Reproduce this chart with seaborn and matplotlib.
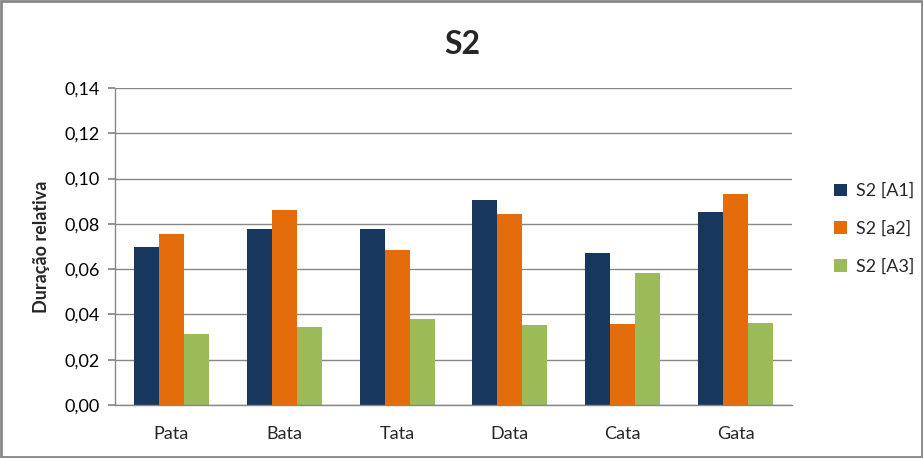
import matplotlib
matplotlib.use("Agg")
import matplotlib.pyplot as plt
import seaborn as sns
import pandas as pd
from matplotlib.ticker import FuncFormatter, MultipleLocator
from matplotlib.patches import Rectangle

categories = ["Pata", "Bata", "Tata", "Data", "Cata", "Gata"]
series_names = ["S2 [A1]", "S2 [a2]", "S2 [A3]"]
a1 = [0.0696, 0.0776, 0.0776, 0.0905, 0.0670, 0.0851]
a2 = [0.0754, 0.0860, 0.0684, 0.0844, 0.0359, 0.0931]
a3 = [0.0315, 0.0346, 0.0381, 0.0355, 0.0581, 0.0364]
colors = ["#17375E", "#E46C0A", "#9BBB59"]

rows = []
for name, vals in zip(series_names, [a1, a2, a3]):
    for c, v in zip(categories, vals):
        rows.append({"cat": c, "series": name, "val": v})
df = pd.DataFrame(rows)

sns.set_theme(style="white")
plt.rcParams['font.family'] = ['Lato', 'DejaVu Sans']

fig = plt.figure(figsize=(9.23, 4.58), dpi=100)
ax = fig.add_axes([115/923, 1-405/458, (792-115)/923, (405-88)/458])

sns.barplot(data=df, x="cat", y="val", hue="series", palette=colors,
            width=0.665, saturation=1, ax=ax, edgecolor="none", linewidth=0)

ax.set_ylim(0, 0.14)
ax.yaxis.set_major_locator(MultipleLocator(0.02))
ax.yaxis.set_major_formatter(FuncFormatter(lambda v, p: f"{v:.2f}".replace(".", ",")))
ax.grid(axis="y", color="#878787", linewidth=1)
ax.set_axisbelow(True)
for s in ["top", "right"]:
    ax.spines[s].set_visible(False)
for s in ["left", "bottom"]:
    ax.spines[s].set_color("#878787")
    ax.spines[s].set_linewidth(1)
ax.tick_params(axis="y", left=True, length=5, color="#878787", labelsize=13, colors="#000000", pad=6)
ax.tick_params(axis="x", bottom=False, labelsize=13, pad=9)
for lab in ax.get_yticklabels():
    lab.set_color("#000000")
ax.set_xlabel("")
ax.set_ylabel("Duração relativa", fontsize=13, fontweight="bold", labelpad=10)

fig.text(462/923, 1-45/458, "S2", ha="center", va="center", fontsize=23, fontweight="bold")

handles, labels = ax.get_legend_handles_labels()
ax.legend(handles, labels, loc="center left", bbox_to_anchor=(818/923, 0.5),
          bbox_transform=fig.transFigure, frameon=False, fontsize=13,
          handlelength=0.7, handleheight=0.7, handletextpad=0.5, labelspacing=1.2)

fig.patches.append(Rectangle((0.001, 0.002), 0.998, 0.996, transform=fig.transFigure,
                             fill=False, edgecolor="#878787", linewidth=2))

fig.savefig("out.png", dpi=100)
